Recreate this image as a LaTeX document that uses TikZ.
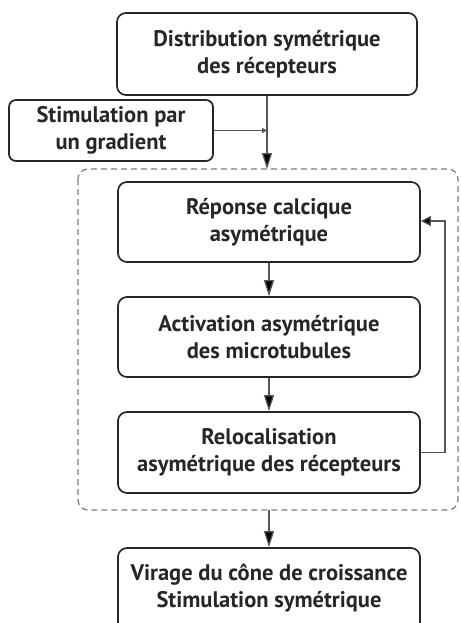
\documentclass[tikz,border=0pt]{standalone}
\usepackage{fontspec}
\setmainfont{PT Sans}
\usetikzlibrary{arrows.meta}
\definecolor{txt}{HTML}{262626}
\definecolor{ln}{HTML}{555555}
\tikzset{
  boxfont/.style={font=\fontsize{22.5}{27.5}\selectfont\bfseries},
  box/.style={draw=black!85, line width=1.7pt, rounded corners=9pt, minimum width=302pt, minimum height=80pt, inner sep=0pt, align=center, text=txt, boxfont},
  conn/.style={draw=ln, line width=1.3pt, -{Triangle[width=10pt,length=16pt,fill=black]}},
  fb/.style={draw=ln, line width=1.3pt, -{Triangle[width=10pt,length=10pt,fill=black]}},
  small/.style={draw=ln, line width=1.3pt, -{Triangle[width=5pt,length=5pt,fill=black]}},
}
\begin{document}
\begin{tikzpicture}[x=1pt,y=1pt]
\useasboundingbox (0,0) rectangle (460,-623);
\clip (0,0) rectangle (460,-623);
\node[box, minimum width=300pt, minimum height=82pt] (top) at (267,-54) {Distribution symétrique\\des récepteurs};
\node[box, minimum width=204pt, minimum height=61pt, rounded corners=7pt] (stim) at (111,-130.5) {Stimulation par\\un gradient};
\node[box] (rep) at (269,-222) {Réponse calcique\\asymétrique};
\node[box] (act) at (269,-337) {Activation asymétrique\\des microtubules};
\node[box, minimum height=81pt] (rel) at (269,-452.5) {Relocalisation\\asymétrique des récepteurs};
\node[box, minimum height=100pt] (fin) at (269,-598) {};
\node[text=txt, boxfont, align=center] (fintext) at (269,-588) {Virage du cône de croissance\\Stimulation symétrique};
\draw[dashed, draw=gray, line width=1.3pt, dash pattern=on 6pt off 4pt, rounded corners=10pt] (78,-169) rectangle (458,-510);
\coordinate (dtop) at (267,-169);
\coordinate (dbot) at (269,-510);
\coordinate (mid) at (267,-130.5);
\draw[conn] (top.south) -- (dtop);
\draw[small] (stim.east) -- (mid);
\draw[conn] (rep.south) -- (act.north);
\draw[conn] (act.south) -- (rel.north);
\draw[conn] (dbot) -- (fin.north);
\draw[fb] (rel.east) -- (445,-452.5) |- (rep.east |- 0,-221);
\end{tikzpicture}
\end{document}
